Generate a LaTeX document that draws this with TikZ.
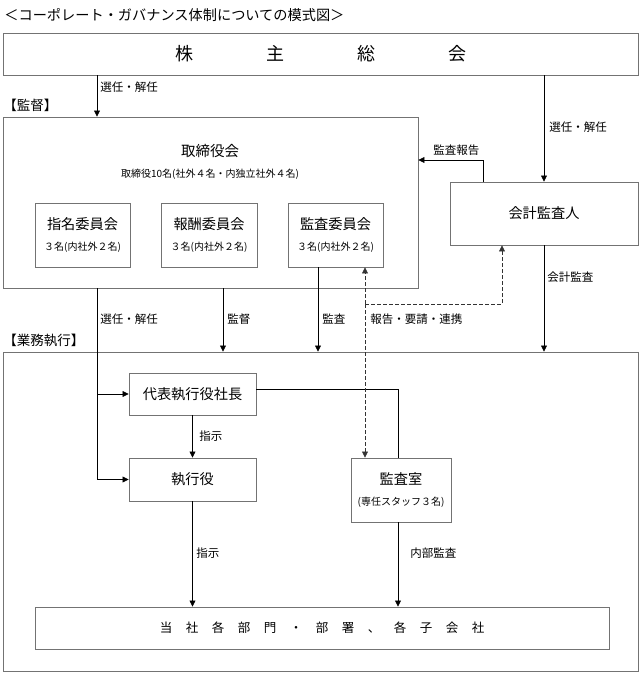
\documentclass[tikz,border=0pt]{standalone}
\usepackage{fontspec}
\setmainfont{Noto Sans CJK JP}
\usetikzlibrary{arrows.meta}

\tikzset{
  box/.style={draw=black!55, line width=0.9pt, inner sep=0pt, align=center},
  lbl/.style={anchor=west, inner sep=0pt, font=\fontsize{11.5}{13}\selectfont},
  arr/.style={-{Triangle[length=6pt,width=6pt]}},
  link/.style={dash pattern=on 4pt off 2pt, black!80}
}
\newcommand{\bigf}{\fontsize{14.2}{21.5}\selectfont}
\newcommand{\smallf}{\fontsize{10}{12}\selectfont}

\begin{document}
\begin{tikzpicture}[x=1pt,y=-1pt,line width=0.7pt]
  \useasboundingbox (0,0) rectangle (642,677);
  \node[anchor=west, inner sep=0pt, font=\fontsize{14.2}{17}\selectfont] (title) at (4,15)
    {＜コーポレート・ガバナンス体制についての模式図＞};

  % boxes
  \node[box, minimum width=635pt, minimum height=42pt, font=\fontsize{18}{20}\selectfont] (sh) at (320.5,54)
    {株\hspace{73pt}主\hspace{73pt}総\hspace{73pt}会};
  \node[box, minimum width=415pt, minimum height=171pt] (board) at (210.5,202.5) {};
  \node[inner sep=0pt, align=center, font=\fontsize{14.5}{21.5}\selectfont] (boardtxt) at (210,162)
    {取締役会\\{\smallf 取締役10名(社外４名・内独立社外４名)}};
  \node[box, minimum width=95pt, minimum height=64pt, font=\bigf] (nom) at (82.5,235)
    {指名委員会\\{\smallf ３名(内社外２名)}};
  \node[box, minimum width=96pt, minimum height=64pt, font=\bigf] (rem) at (209,235)
    {報酬委員会\\{\smallf ３名(内社外２名)}};
  \node[box, minimum width=95pt, minimum height=64pt, font=\bigf] (aud) at (335.5,235)
    {監査委員会\\{\smallf ３名(内社外２名)}};
  \node[box, minimum width=188pt, minimum height=63pt, font=\bigf] (acct) at (544,213.5) {会計監査人};
  \node[box, minimum width=635pt, minimum height=319pt] (exec) at (320.5,511.5) {};
  \node[box, minimum width=127pt, minimum height=42pt, font=\bigf] (ceo) at (192.5,394) {代表執行役社長};
  \node[box, minimum width=127pt, minimum height=43pt, font=\bigf] (off) at (192.5,479.5) {執行役};
  \node[box, minimum width=100pt, minimum height=64pt, font=\bigf] (iad) at (401,490)
    {監査室\\{\smallf (専任スタッフ３名)}};
  \node[box, minimum width=574pt, minimum height=42pt, font=\fontsize{12.5}{14}\selectfont] (dept) at (322,628)
    {当\hspace{13.5pt}社\hspace{13.5pt}各\hspace{13.5pt}部\hspace{13.5pt}門\hspace{13.5pt}・\hspace{13.5pt}部\hspace{13.5pt}署\hspace{13.5pt}、\hspace{13.5pt}各\hspace{13.5pt}子\hspace{13.5pt}会\hspace{13.5pt}社};

  % section headings
  \node[anchor=west, inner sep=0pt, font=\fontsize{13.5}{15}\selectfont] (hsup) at (3,105) {【監督】};
  \node[anchor=west, inner sep=0pt, font=\fontsize{13.5}{15}\selectfont] (hexe) at (3,340) {【業務執行】};

  % connectors
  \draw[arr] (sh.south -| 97,0) -- (board.north -| 97,0);
  \draw[arr] (sh.south -| acct.north) -- (acct.north);
  \draw[arr] (acct.north -| 483,0) |- (board.east |- 0,160);
  \draw[arr] (board.south -| 223,0) -- (exec.north -| 223,0);
  \draw[arr] (aud.south -| 318,0) -- (exec.north -| 318,0);
  \draw[arr] (acct.south) -- (exec.north -| acct.south);
  \draw[arr] (board.south -| 97,0) |- (off.west);
  \draw[arr] (ceo.west -| 97,0) -- (ceo.west);
  \draw[arr] (ceo.south) -- (off.north);
  \draw ([yshift=5pt]ceo.east) -| (iad.north -| 398,0);
  \draw[arr] (off.south) -- (dept.north -| off.south);
  \draw[arr] (iad.south -| 398,0) -- (dept.north -| 398,0);
  \coordinate (fork) at (365,304);
  \draw[link, arr] (fork) -- (aud.south -| fork);
  \draw[link, arr] (fork) -- (iad.north -| fork);
  \draw[link, arr] (fork) -| (acct.south -| 502,0);

  % labels
  \node[lbl] (l1) at (100,87) {選任・解任};
  \node[lbl] (l2) at (549,127) {選任・解任};
  \node[lbl] (l3) at (433,150) {監査報告};
  \node[lbl] (l4) at (547,277) {会計監査};
  \node[lbl] (l5) at (100,319) {選任・解任};
  \node[lbl] (l6) at (227,319) {監督};
  \node[lbl] (l7) at (322,319) {監査};
  \node[lbl] (l8) at (370,319) {報告・要請・連携};
  \node[lbl] (l9) at (199,436) {指示};
  \node[lbl] (l10) at (196,553) {指示};
  \node[lbl] (l11) at (410,553) {内部監査};
\end{tikzpicture}
\end{document}
